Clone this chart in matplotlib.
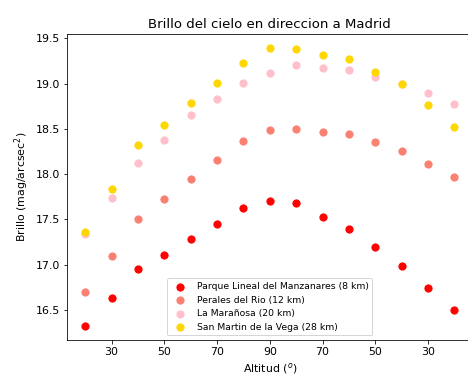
import numpy as np
from matplotlib import pyplot as plt

# Posiciones en el eje x (de 20 a 160, subiendo y bajando en altitud)
x = np.arange(20, 170, 10)

# Brillo medido en cada lugar
parque = [16.32, 16.63, 16.95, 17.11, 17.28, 17.45, 17.63, 17.70, 17.68, 17.53, 17.39, 17.19, 16.98, 16.74, 16.50]
perales = [16.70, 17.09, 17.50, 17.72, 17.94, 18.15, 18.37, 18.49, 18.50, 18.47, 18.44, 18.35, 18.26, 18.11, 17.97]
maranosa = [17.34, 17.73, 18.12, 18.38, 18.65, 18.83, 19.01, 19.12, 19.20, 19.17, 19.15, 19.07, 19.00, 18.89, 18.77]
sanmartin = [17.36, 17.84, 18.32, 18.54, 18.78, 19.01, 19.23, 19.39, 19.38, 19.32, 19.27, 19.13, 18.99, 18.76, 18.52]

etiquetas = ['Parque Lineal del Manzanares (8 km)', 'Perales del Rio (12 km)',
             'La Marañosa (20 km)', 'San Martin de la Vega (28 km)']
colores = ['red', 'salmon', 'pink', 'gold']

tick_pos = [30, 50, 70, 90, 110, 130, 150]
tick_lab = ['30', '50', '70', '90', '70', '50', '30']

plt.rcParams['font.size'] = 11

fig = plt.figure(figsize=(468 / 72, 376 / 72), dpi=72)
ax = fig.add_axes([0.1425, 0.0957, 0.868, 0.813])

for datos, col, lab in zip([parque, perales, maranosa, sanmartin], colores, etiquetas):
    ax.scatter(x, datos, color=col, label=lab, s=52)

ax.set_xticks(tick_pos)
ax.set_xticklabels(tick_lab)
ax.set_title('Brillo del cielo en direccion a Madrid', fontsize=13.3)
ax.set_xlabel('Altitud ($^o$)')
ax.set_ylabel('Brillo (mag/arcsec$^2$)')
ax.legend(loc='lower center', fontsize=9.2)

plt.savefig('out.png', dpi=72)
